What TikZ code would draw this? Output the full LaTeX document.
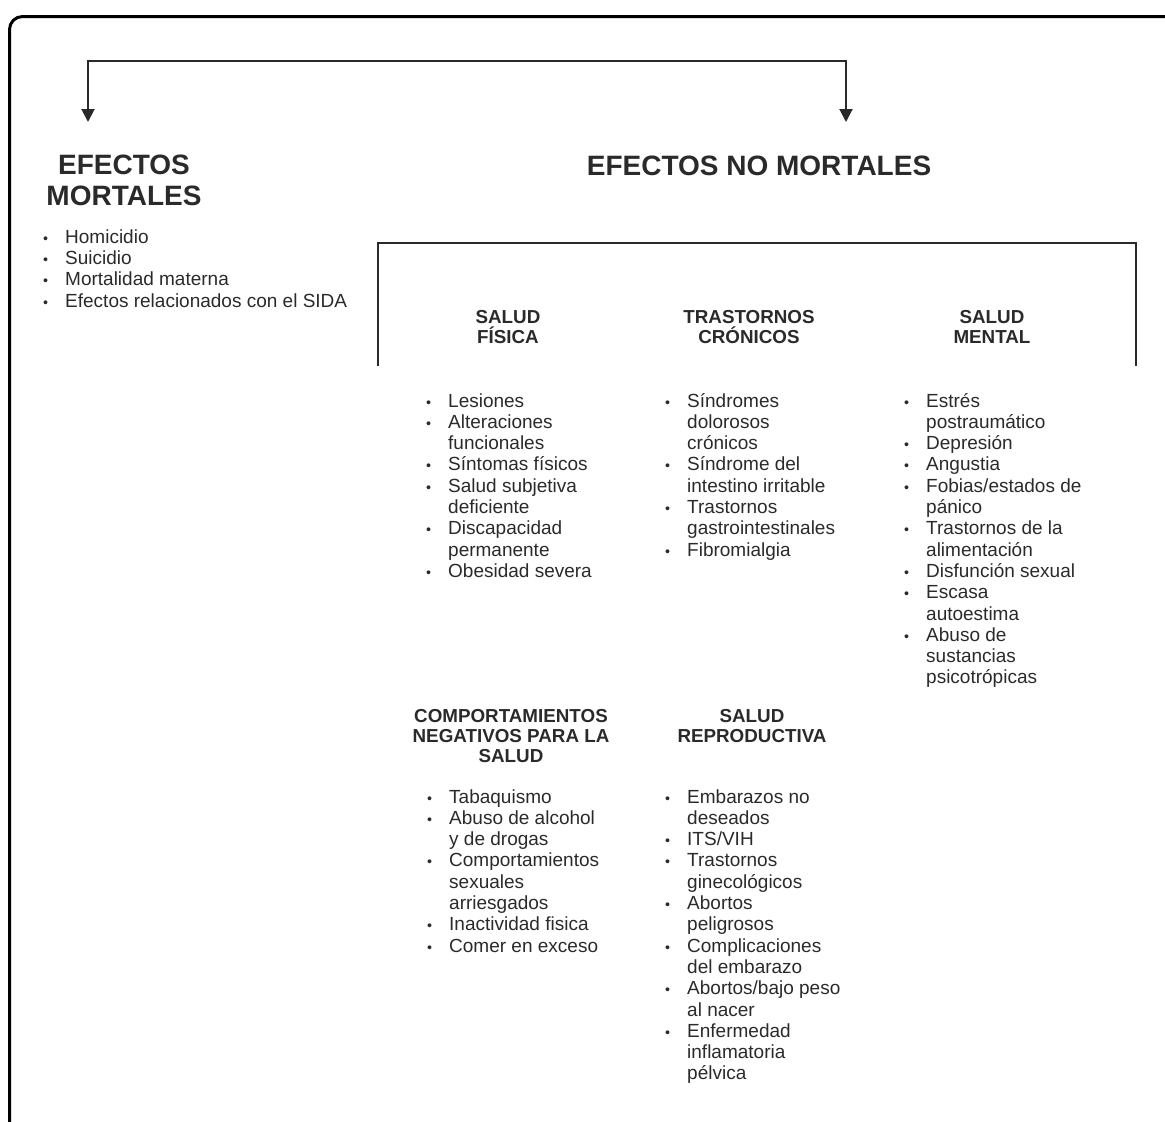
\documentclass[tikz,border=0pt]{standalone}
\usepackage{fontspec}
\setmainfont{Liberation Sans}
\usetikzlibrary{arrows.meta}
\definecolor{inkgrey}{HTML}{2A2A2A}
\def\bul{\llap{\scalebox{0.75}{\textbullet}\hspace{17pt}}}
\tikzset{
	listtxt/.style={inner sep=0pt, text=inkgrey, anchor=base west, align=left, font=\fontsize{19}{21.3}\selectfont},
	subhead/.style={inner sep=0pt, text=inkgrey, anchor=base, align=center, font=\fontsize{18.8}{20.4}\selectfont\bfseries},
	bighead/.style={inner sep=0pt, text=inkgrey, anchor=base, align=center, font=\fontsize{28}{31}\selectfont\bfseries},
	link/.style={line width=2pt, draw=inkgrey},
	tip/.style={{Triangle[width=13pt,length=13pt]}-{Triangle[width=13pt,length=13pt]}}
}

\begin{document}
\begin{tikzpicture}[x=1pt, y=-1pt]
		%%%%% START %%%%%
		\useasboundingbox (0, 0) rectangle (1165, 1122);
		
		% outer frame, cut off right and bottom
		\draw[line width=3pt, rounded corners=13pt] (9.5, 1122) -- (9.5, 16.5) -- (1165, 16.5);
		
		% split arrow
		\coordinate (splitl) at (88, 61);
		\coordinate (splitr) at (846, 61);
		\coordinate (tipl) at (88, 122);
		\coordinate (tipr) at (846, 122);
		\draw[link, tip] (tipl) -- (splitl) -- (splitr) -- (tipr);
		
		% base anchor = baseline of the last line
		\node[bighead] (mort) at (124, 205) {EFECTOS\\MORTALES};
		\node[bighead] (nomort) at (759, 175) {EFECTOS NO MORTALES};
		
		\node[listtxt] (mortlist) at (65, 307) {\bul Homicidio\\\bul Suicidio\\\bul Mortalidad materna\\\bul Efectos relacionados con el SIDA};
		
		% bracket over the non-fatal groups
		\coordinate (brl) at (378, 366);
		\coordinate (brtl) at (378, 243);
		\coordinate (brtr) at (1136, 243);
		\coordinate (brr) at (1136, 366);
		\draw[link] (brl) -- (brtl) -- (brtr) -- (brr);
		
		\node[subhead] (fisica) at (508, 343.4) {SALUD\\FÍSICA};
		\node[subhead] (cronic) at (749, 343.4) {TRASTORNOS\\CRÓNICOS};
		\node[subhead] (mental) at (992, 343.4) {SALUD\\MENTAL};
		
		\node[listtxt] (fisicalist) at (448, 577.4) {\bul Lesiones\\\bul Alteraciones\\funcionales\\\bul Síntomas físicos\\\bul Salud subjetiva\\deficiente\\\bul Discapacidad\\permanente\\\bul Obesidad severa};
		\node[listtxt] (cronlist) at (687, 556.1) {\bul Síndromes\\dolorosos\\crónicos\\\bul Síndrome del\\intestino irritable\\\bul Trastornos\\gastrointestinales\\\bul Fibromialgia};
		\node[listtxt] (mentlist) at (926, 683.9) {\bul Estrés\\postraumático\\\bul Depresión\\\bul Angustia\\\bul Fobias/estados de\\pánico\\\bul Trastornos de la\\alimentación\\\bul Disfunción sexual\\\bul Escasa\\autoestima\\\bul Abuso de\\sustancias\\psicotrópicas};
		
		\node[subhead] (comport) at (511, 762.8) {COMPORTAMIENTOS\\NEGATIVOS PARA LA\\SALUD};
		\node[subhead] (reprod) at (752, 742.4) {SALUD\\REPRODUCTIVA};
		
		\node[listtxt] (comlist) at (449, 952.1) {\bul Tabaquismo\\\bul Abuso de alcohol\\y de drogas\\\bul Comportamientos\\sexuales\\arriesgados\\\bul Inactividad fisica\\\bul Comer en exceso};
		\node[listtxt] (replist) at (687, 1079.9) {\bul Embarazos no\\deseados\\\bul ITS/VIH\\\bul Trastornos\\ginecológicos\\\bul Abortos\\peligrosos\\\bul Complicaciones\\del embarazo\\\bul Abortos/bajo peso\\al nacer\\\bul Enfermedad\\inflamatoria\\pélvica};
		
		%%%%% END %%%%%
	\end{tikzpicture}
\end{document}
